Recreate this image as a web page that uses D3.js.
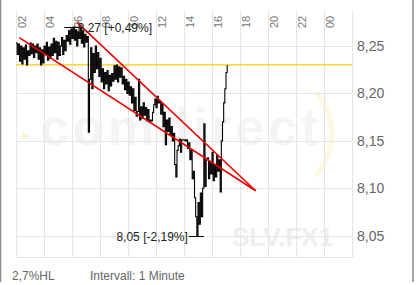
<!DOCTYPE html>
<html>
<head>
<meta charset="utf-8">
<script src="https://cdn.jsdelivr.net/npm/d3@7"></script>
<style>
  body { margin: 0; background: #fff; }
  svg { display: block; font-family: "Liberation Sans", Arial, sans-serif; }
</style>
</head>
<body>
<svg id="chart"></svg>
<script>
// 5-minute closes starting 02:00
const prices = [
  8.253, 8.241, 8.252, 8.234,
  8.250, 8.231, 8.248, 8.236, 8.251, 8.230, 8.245,
  8.240, 8.253, 8.242, 8.252, 8.238, 8.250, 8.243, 8.252,
  8.236, 8.248, 8.230, 8.246, 8.232, 8.250,
  8.241, 8.254, 8.235, 8.249, 8.237, 8.252,
  8.240, 8.258, 8.243, 8.255, 8.236, 8.254, 8.240,
  8.250, 8.259, 8.241, 8.256, 8.245, 8.261,
  8.255, 8.266, 8.252, 8.268, 8.258, 8.270, 8.256, 8.267, 8.250, 8.265, 8.258, 8.269, 8.253, 8.266, 8.249, 8.262, 8.254, 8.260,
  8.159,
  8.215, 8.248, 8.205, 8.242, 8.222, 8.250, 8.226, 8.243, 8.218, 8.237,
  8.212, 8.226, 8.205, 8.222, 8.210, 8.224, 8.203, 8.219, 8.208, 8.221, 8.213, 8.229, 8.215, 8.230, 8.212, 8.228, 8.217, 8.227, 8.210,
  8.218, 8.204, 8.215, 8.200, 8.212, 8.198, 8.207,
  8.190, 8.205, 8.182, 8.196, 8.176, 8.181, 8.215, 8.172,
  8.186, 8.174, 8.190, 8.177, 8.185, 8.171, 8.183, 8.170, 8.172, 8.171, 8.180, 8.188, 8.194, 8.185, 8.197, 8.190, 8.192,
  8.178, 8.189, 8.165, 8.180, 8.146, 8.172, 8.160, 8.174, 8.156, 8.165, 8.150, 8.158, 8.125, 8.112, 8.140,
  8.145, 8.152, 8.138, 8.151, 8.151, 8.151, 8.150, 8.151, 8.142, 8.148, 8.130, 8.140, 8.110,
  8.118, 8.090, 8.070, 8.050, 8.085, 8.062, 8.095, 8.070, 8.100,
  8.168, 8.102, 8.130,
  8.132, 8.110, 8.128, 8.115, 8.138, 8.108, 8.125, 8.112, 8.135, 8.118,
  8.130, 8.096, 8.150,
  8.170, 8.190, 8.205, 8.222, 8.230
]
const stepMinutes = 5
const prevClose = 8.23

const hourLabels = ["02", "04", "06", "08", "10", "12", "14", "16", "18", "20", "22", "00"]
const yTickValues = [8.05, 8.10, 8.15, 8.20, 8.25]

// trend lines, [minutes since 02:00, price]
const trendLower = [[14, 8.2588], [1027, 8.0974]]
const trendUpper = [[263, 8.2746], [1027, 8.0974]]

const width = 419, height = 285
const plot = {left: 16, right: 352, top: 10, bottom: 258}

const svg = d3.select("#chart").attr("width", width).attr("height", height)

const x = d3.scaleLinear().domain([0, 24 * 60]).range([plot.left, plot.right])
const y = d3.scaleLinear().domain([8.05, 8.25]).range([235.7, 46])
const fmt = v => d3.format(".2f")(v).replace(".", ",")

// outer frame
svg.append("line").attr("x1", 0.5).attr("x2", 0.5).attr("y1", 0).attr("y2", 282)
    .attr("stroke", "#8a8a8a").attr("stroke-width", 1.5)
svg.append("line").attr("x1", 413).attr("x2", 413).attr("y1", 0).attr("y2", 282)
    .attr("stroke", "#8a8a8a").attr("stroke-width", 1.5)

// watermark
const wm = svg.append("g")
wm.append("text")
    .attr("x", 40).attr("y", 145)
    .attr("font-size", 52).attr("font-weight", "bold")
    .attr("textLength", 278).attr("lengthAdjust", "spacing")
    .attr("fill", "#f4f4f4")
    .text("comdirect")
wm.append("circle").attr("cx", 25).attr("cy", 136).attr("r", 3).attr("fill", "#fcf3d2")
wm.append("path")
    .attr("d", "M316,92 Q348,133 316,176")
    .attr("fill", "none").attr("stroke", "#fef8e2").attr("stroke-width", 5)
svg.append("text")
    .attr("x", 232).attr("y", 246)
    .attr("font-size", 26).attr("font-weight", "bold")
    .attr("fill", "#eeeeee")
    .text("SLV.FX1")

// grid
const hours = d3.range(0, 24 * 60 + 1, 120)
svg.append("g").selectAll("line").data(hours).join("line")
    .attr("x1", d => x(d) + 0.5).attr("x2", d => x(d) + 0.5)
    .attr("y1", plot.top).attr("y2", plot.bottom)
    .attr("stroke", "#e6e6e6")
svg.append("g").selectAll("line").data(yTickValues).join("line")
    .attr("x1", plot.left).attr("x2", plot.right)
    .attr("y1", d => Math.round(y(d)) + 0.5).attr("y2", d => Math.round(y(d)) + 0.5)
    .attr("stroke", "#e6e6e6")
svg.append("line")
    .attr("x1", plot.left).attr("x2", plot.right + 1)
    .attr("y1", plot.bottom - 0.5).attr("y2", plot.bottom - 0.5)
    .attr("stroke", "#e6e6e6")

// x labels (rotated)
svg.append("g").selectAll("text").data(hourLabels).join("text")
    .attr("transform", (d, i) => `translate(${x(i * 120) + 9.5},28) rotate(-90)`)
    .attr("font-size", 11).attr("fill", "#777")
    .text(d => d)

// y labels
svg.append("g").selectAll("text").data(yTickValues).join("text")
    .attr("x", 357).attr("y", d => y(d) + 5)
    .attr("font-size", 14).attr("fill", "#666")
    .text(fmt)

// previous close
svg.append("line")
    .attr("x1", plot.left).attr("x2", plot.right)
    .attr("y1", y(prevClose)).attr("y2", y(prevClose))
    .attr("stroke", "#ffcc00").attr("stroke-width", 1.2)

// price line, stepped like the minute ticks
const line = d3.line().curve(d3.curveStepAfter)
    .x((d, i) => x(i * stepMinutes)).y(d => y(d))
svg.append("path").datum(prices)
    .attr("d", line)
    .attr("fill", "none").attr("stroke", "#000").attr("stroke-width", 1.1)

// trend lines
const tline = d3.line().x(d => x(d[0])).y(d => y(d[1]))
svg.append("g").selectAll("path").data([trendLower, trendUpper]).join("path")
    .attr("d", tline)
    .attr("fill", "none").attr("stroke", "#ee0000").attr("stroke-width", 1.6)

// high / low markers
const hiIdx = d3.maxIndex(prices), loIdx = d3.minIndex(prices)
const hi = prices[hiIdx], lo = prices[loIdx]
const pct = v => (v >= 0 ? "+" : "-") + d3.format(".2f")(Math.abs(v)).replace(".", ",") + "%"

const hx = x(hiIdx * stepMinutes), hy = Math.round(y(hi)) + 0.5
svg.append("line").attr("x1", hx - 9).attr("x2", hx + 7).attr("y1", hy).attr("y2", hy).attr("stroke", "#000")
svg.append("text").attr("x", hx + 4.5).attr("y", hy + 4.5)
    .attr("font-size", 12).attr("fill", "#222")
    .text(`${fmt(hi)} [${pct((hi / prevClose - 1) * 100)}]`)

const lx = x(loIdx * stepMinutes), ly = Math.round(y(lo)) + 0.5
svg.append("line").attr("x1", lx - 8).attr("x2", lx + 7).attr("y1", ly).attr("y2", ly).attr("stroke", "#000")
svg.append("text").attr("x", lx - 9).attr("y", ly + 4.5)
    .attr("text-anchor", "end")
    .attr("font-size", 12).attr("fill", "#222")
    .text(`${fmt(lo)} [${pct((lo / prevClose - 1) * 100)}]`)

// footer
svg.append("text").attr("x", 12).attr("y", 280)
    .attr("font-size", 12).attr("fill", "#666").text("2,7%HL")
svg.append("text").attr("x", 90).attr("y", 280)
    .attr("font-size", 12).attr("fill", "#666").text("Intervall: 1 Minute")
</script>
</body>
</html>
